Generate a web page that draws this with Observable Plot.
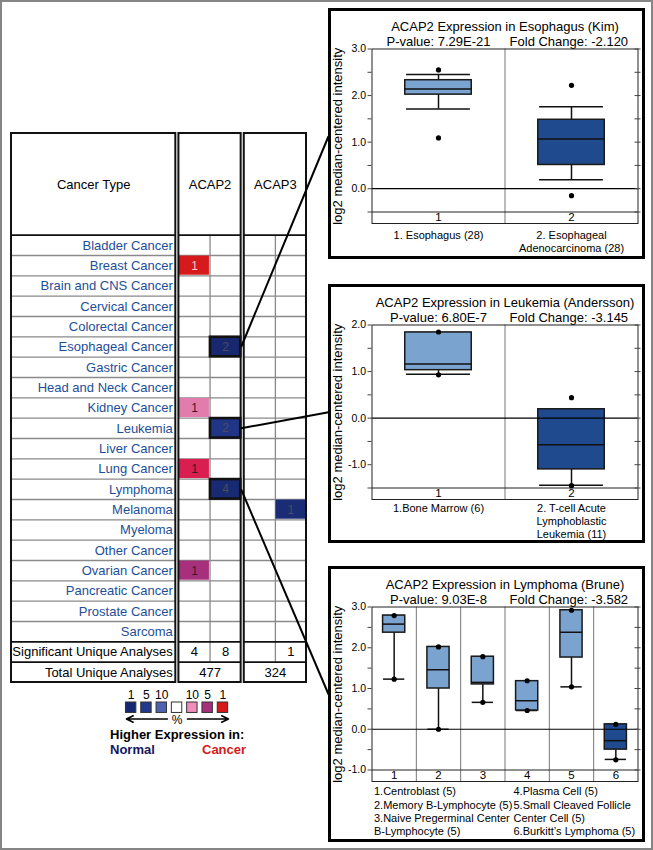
<!DOCTYPE html>
<html><head><meta charset="utf-8">
<script src="https://cdn.jsdelivr.net/npm/d3@7"></script>
<script src="https://cdn.jsdelivr.net/npm/@observablehq/plot@0.6"></script>
<style>
html,body{margin:0;padding:0;background:#fff;}
#fig{position:relative;width:653px;height:850px;overflow:hidden;font-family:'Liberation Sans',Arial,Helvetica,sans-serif;background:#fff;}
#fig svg{position:absolute;overflow:visible;}
</style></head>
<body><div id="fig"></div>
<script>
// ================= DATA =================
const cancerTypes = ["Bladder Cancer","Breast Cancer","Brain and CNS Cancer","Cervical Cancer","Colorectal Cancer","Esophageal Cancer","Gastric Cancer","Head and Neck Cancer","Kidney Cancer","Leukemia","Liver Cancer","Lung Cancer","Lymphoma","Melanoma","Myeloma","Other Cancer","Ovarian Cancer","Pancreatic Cancer","Prostate Cancer","Sarcoma"];
const summaryRows = ["Significant Unique Analyses","Total Unique Analyses"];
const genes = ["ACAP2","ACAP3"];
// significant analyses (cells of the heat table)
const sigCancer    = ["Breast Cancer","Esophageal Cancer","Kidney Cancer","Leukemia","Lung Cancer","Lymphoma","Melanoma","Ovarian Cancer"];
const sigGene      = ["ACAP2","ACAP2","ACAP2","ACAP2","ACAP2","ACAP2","ACAP3","ACAP2"];
const sigDirection = ["over","under","over","under","over","under","under","over"];
const sigCount     = [1,2,1,2,1,4,1,1];
const sigRank      = [1,1,9,4,2,1.5,2,5];   // gene rank percentile (colour)
const sigUniqueOver  = [4, null];
const sigUniqueUnder = [8, 1];
const totalUnique    = [477, 324];
const legendRanks = [1,5,10];

// Panel 1: Esophagus (Kim)
const esoCancer = "Esophageal Cancer";
const esoTitle = "ACAP2 Expression in Esophagus (Kim)";
const esoPValue = "7.29E-21", esoFold = "-2.120";
const esoLabels = ["1. Esophagus (28)", "2. Esophageal\nAdenocarcinoma (28)"];
const esoTissue = ["normal","cancer"];
const esoQ1 = [2.02, 0.51], esoMedian = [2.14, 1.07], esoQ3 = [2.33, 1.48];
const esoLow = [1.71, 0.19], esoHigh = [2.45, 1.76];
const esoDotGroup = [1,1,2,2], esoDotValue = [2.55,1.09,2.22,-0.15];
const esoYMin = -0.5, esoYMax = 3.0;

// Panel 2: Leukemia (Andersson)
const leuCancer = "Leukemia";
const leuTitle = "ACAP2 Expression in Leukemia (Andersson)";
const leuPValue = "6.80E-7", leuFold = "-3.145";
const leuLabels = ["1.Bone Marrow (6)", "2. T-cell Acute\nLymphoblastic\nLeukemia (11)"];
const leuTissue = ["normal","cancer"];
const leuQ1 = [1.03, -1.10], leuMedian = [1.16, -0.57], leuQ3 = [1.84, 0.19];
const leuLow = [0.94, -1.44], leuHigh = [1.84, 0.19];
const leuDotGroup = [1,1,2,2], leuDotValue = [1.85,0.93,0.44,-1.45];
const leuYMin = -1.5, leuYMax = 2.0;

// Panel 3: Lymphoma (Brune)
const lymCancer = "Lymphoma";
const lymTitle = "ACAP2 Expression in Lymphoma (Brune)";
const lymPValue = "9.03E-8", lymFold = "-3.582";
const lymLabels = ["1.Centroblast (5)","2.Memory B-Lymphocyte (5)","3.Naive Pregerminal Center\nB-Lymphocyte (5)","4.Plasma Cell (5)","5.Small Cleaved Follicle\nCenter Cell (5)","6.Burkitt\u2019s Lymphoma (5)"];
const lymTissue = ["normal","normal","normal","normal","normal","cancer"];
const lymQ1 =     [2.37, 1.00, 1.10, 0.46, 1.76, -0.50];
const lymMedian = [2.58, 1.46, 1.15, 0.70, 2.38, -0.28];
const lymQ3 =     [2.79, 2.02, 1.78, 1.18, 2.92, 0.12];
const lymLow =    [1.23, 0.00, 0.66, 0.46, 1.04, -0.74];
const lymHigh =   [2.79, 2.02, 1.78, 1.18, 2.92, 0.12];
const lymDotGroup = [1,1,2,2,3,3,4,4,5,5,6,6];
const lymDotValue = [2.79,1.23,2.02,0.00,1.78,0.66,1.19,0.46,2.92,1.04,0.12,-0.75];
const lymYMin = -1.0, lymYMax = 3.0;

// ================= STYLE / LAYOUT =================
const FONT = "'Liberation Sans', Arial, Helvetica, sans-serif";
const overColor  = d3.scaleLinear().domain([1,2,5,10]).range(["#d6191b","#d81f4f","#a6307b","#f08fba"]);
const underColor = d3.scaleLinear().domain([1,5,10]).range(["#182870","#22398c","#4d63b2"]);
const LIGHT = "#7ba3d0", DARK = "#1f4b8e";
const fig = document.getElementById("fig");
function put(el, left, top){ el.style.position="absolute"; el.style.left=left+"px"; el.style.top=top+"px"; fig.appendChild(el); return el; }
function div(left, top, w, h, css, html){ const d=document.createElement("div"); d.style.cssText=`position:absolute;left:${left}px;top:${top}px;${w!=null?`width:${w}px;`:""}${h!=null?`height:${h}px;`:""}box-sizing:border-box;${css||""}`; if(html) d.innerHTML=html; fig.appendChild(d); return d; }
const baseStyle = {background:"transparent", fontFamily: FONT, overflow:"visible"};

// ================= TABLE =================
const TX = d3.scaleLinear().domain([-5.38, 4.1]).range([11, 306]);
const TY = d3.scaleLinear().domain([-5, 22]).range([133, 682]);
const nRows = cancerTypes.length, sigRow = nRows, totRow = nRows + 1;
const panelCancers = [esoCancer, leuCancer, lymCancer];
const labelBlock = {x1: TX.domain()[0], x2: -0.1};
const geneBlocks = genes.map((g,k) => ({gene:g, x1:k*2.1, x2:k*2.1+2}));
const allBlocks = [labelBlock, ...geneBlocks];
const grayRows = allBlocks.flatMap(b => d3.range(1, nRows).map(r => ({x1:b.x1, x2:b.x2, y:r})));
const blackRows = allBlocks.flatMap(b => [0, sigRow, totRow].map(r => ({x1:b.x1, x2:b.x2, y:r})));
const cells = sigCancer.map((c,i) => {
  const k = genes.indexOf(sigGene[i]);
  const x1 = k*2.1 + (sigDirection[i] === "over" ? 0 : 1);
  const r = cancerTypes.indexOf(c);
  return {x1, x2:x1+1, y1:r, y2:r+1, count:sigCount[i],
    fill:(sigDirection[i]==="over"?overColor:underColor)(sigRank[i]),
    txt:(sigDirection[i]==="over" && sigRank[i]<=1) ? "#f7c8c8" : (sigDirection[i]==="over" ? "#3a1a26" : "#4a4c5e"),
    hl: sigGene[i]==="ACAP2" && panelCancers.includes(c)};
});
const summaryTexts = genes.flatMap((g,k) => [
  {x:k*2.1+0.5, y:sigRow+0.5, t:sigUniqueOver[k]},
  {x:k*2.1+1.5, y:sigRow+0.5, t:sigUniqueUnder[k]},
  {x:k*2.1+1, y:totRow+0.5, t:totalUnique[k]}
]).filter(d => d.t != null);
const headers = [{x:(labelBlock.x1+labelBlock.x2)/2, t:"Cancer Type"}, ...geneBlocks.map(b => ({x:(b.x1+b.x2)/2, t:b.gene}))];

const tablePlot = Plot.plot({
  width: 320, height: 700, margin: 0,
  x: {domain: TX.domain(), range: TX.range(), axis: null},
  y: {domain: TY.domain(), range: TY.range(), axis: null},
  style: {...baseStyle, fontSize: "13px"},
  marks: [
    Plot.ruleY(grayRows, {y:"y", x1:"x1", x2:"x2", stroke:"#8a8a8a", strokeWidth:1.3}),
    Plot.ruleX(geneBlocks, {x: d => d.x1 + 1, y1: 0, y2: totRow, stroke:"#8a8a8a", strokeWidth:1.3}),
    Plot.rect(cells, {x1:"x1", x2:"x2", y1:"y1", y2:"y2", fill:"fill", inset:0.6}),
    Plot.ruleY(blackRows, {y:"y", x1:"x1", x2:"x2", stroke:"#111", strokeWidth:1.6}),
    Plot.rect(cells.filter(d => d.hl), {x1:"x1", x2:"x2", y1:"y1", y2:"y2", fill:"none", stroke:"#111", strokeWidth:2.6, inset:0.4}),
    Plot.rect(allBlocks, {x1:"x1", x2:"x2", y1: TY.domain()[0], y2: TY.domain()[1], fill:"none", stroke:"#111", strokeWidth:2}),
    Plot.text(cells, {x: d => (d.x1+d.x2)/2, y: d => d.y1 + 0.5, text: d => String(d.count), fill:"txt", fontSize:12}),
    Plot.text(cancerTypes, {x: labelBlock.x2, y: (d,i) => i + 0.5, text: d => d, textAnchor:"end", dx:-3, fill:"#1d4e98", fontSize:13}),
    Plot.text(summaryRows, {x: labelBlock.x2, y: (d,i) => sigRow + i + 0.5, text: d => d, textAnchor:"end", dx:-3, fill:"#000", fontSize:13}),
    Plot.text(summaryTexts, {x:"x", y:"y", text: d => String(d.t), fontSize:13}),
    Plot.text(headers, {x:"x", y: -2.5, text:"t", fontSize:13})
  ]
});
put(tablePlot, 0, 0);

// ================= LEGEND =================
const legendItems = [
  ...legendRanks.map(r => ({side:"under", rank:r})),
  {side:"none", rank:null},
  ...legendRanks.slice().reverse().map(r => ({side:"over", rank:r}))
].map((d,i) => ({...d, i, label: d.rank ? String(d.rank) : "",
  fill: d.side==="under" ? underColor(d.rank) : d.side==="over" ? overColor(d.rank) : "#ffffff"}));
const LX = d3.scaleLinear().domain([-0.5, 6.5]).range([123, 230.1]);
const LY = d3.scaleLinear().domain([0, 2]).range([16, 38]);
const legendArrows = [{x1:2.37, x2:-0.31, y:1.5}, {x1:3.68, x2:6.36, y:1.5}];
const legendPlot = Plot.plot({
  width: 320, height: 45, margin: 0,
  x: {domain: LX.domain(), range: LX.range(), axis: null},
  y: {domain: LY.domain(), range: LY.range(), axis: null},
  style: {...baseStyle, fontSize: "12px"},
  marks: [
    Plot.rect(legendItems, {x1: d => d.i - 0.34, x2: d => d.i + 0.34, y1: 0, y2: 0.95, fill:"fill", stroke:"#333", strokeWidth:1}),
    Plot.text(legendItems, {x:"i", y:0, dy:-7, text:"label", fontSize:12}),
    Plot.arrow(legendArrows, {x1:"x1", x2:"x2", y1:"y", y2:"y", strokeWidth:1.6, headLength:7, headAngle:50}),
    Plot.text(["%"], {x: 3, y: 1.5, dy: 1.5, fontSize: 12})
  ]
});
put(legendPlot, 0, 686);
div(110, 728.5, null, null, "font-size:13px;line-height:12px;font-weight:bold;color:#000;white-space:nowrap;", "Higher Expression in:");
div(110, 743.5, null, null, "font-size:13px;line-height:12px;font-weight:bold;color:#14175e;white-space:nowrap;", "Normal");
div(202, 743.5, null, null, "font-size:13px;line-height:12px;font-weight:bold;color:#d41a1a;white-space:nowrap;", "Cancer");

// ================= BOX PANELS =================
const P_TOP = 40.5, P_BOTTOM = 215, BAND = 11.5, M_LEFT = 43.5, M_RIGHT = 7.5, HALF = 0.25, CAP = 0.24;
function boxPanel(p) {
  const n = p.q1.length, idx = d3.range(n);
  const yLo = p.yMin - BAND * (p.yMax - p.yMin) / (P_BOTTOM - BAND - P_TOP);
  const boxes = idx.map(i => ({x:i+1, q1:p.q1[i], med:p.median[i], q3:p.q3[i], lo:p.low[i], hi:p.high[i], fill: p.tissue[i]==="cancer" ? DARK : LIGHT}));
  const pts = p.dotGroup.map((g,j) => ({x:g, y:p.dotValue[j]}));
  const ticks = d3.range(Math.round(p.yMin*2), Math.round(p.yMax*2)+1).map(k => k/2);
  const fmt = d => Number.isInteger(d) ? d.toFixed(1) : "";
  const xLabelMarks = p.legendColumns
    ? [Plot.text([p.labels.slice(0,3).join("\n")], {frameAnchor:"bottom-left", textAnchor:"start", lineAnchor:"top", dx:2, dy:p.labelDy, lineHeight:1.2, fontSize:11}),
       Plot.text([p.labels.slice(3).join("\n")], {frameAnchor:"bottom", textAnchor:"start", lineAnchor:"top", dx:8.5, dy:p.labelDy, lineHeight:1.2, fontSize:11})]
    : [Plot.text(idx, {x: i => i+1, text: i => p.labels[i], frameAnchor:"bottom", lineAnchor:"top", dy:p.labelDy, lineHeight:1.18, fontSize:11})];
  const plot = Plot.plot({
    width: p.width, height: p.height,
    marginTop: P_TOP, marginBottom: p.height - P_BOTTOM, marginLeft: M_LEFT, marginRight: M_RIGHT,
    x: {domain:[0.5, n+0.5], axis:null},
    y: {domain:[yLo, p.yMax], axis:null},
    style: {...baseStyle, fontSize:"10.5px"},
    marks: [
      Plot.ruleX(d3.range(1.5, n, 1), {stroke:"#777", strokeWidth:1}),
      Plot.ruleX(boxes, {x:"x", y1:"q3", y2:"hi", stroke:"#111", strokeWidth:1.5}),
      Plot.ruleX(boxes, {x:"x", y1:"lo", y2:"q1", stroke:"#111", strokeWidth:1.5}),
      Plot.ruleY(boxes, {y:"hi", x1: d => d.x - CAP, x2: d => d.x + CAP, stroke:"#111", strokeWidth:1.5}),
      Plot.ruleY(boxes, {y:"lo", x1: d => d.x - CAP, x2: d => d.x + CAP, stroke:"#111", strokeWidth:1.5}),
      Plot.rect(boxes, {x1: d => d.x - HALF, x2: d => d.x + HALF, y1:"q1", y2:"q3", fill:"fill", stroke:"#1a1a1a", strokeWidth:1.5}),
      Plot.ruleY(boxes, {y:"med", x1: d => d.x - HALF, x2: d => d.x + HALF, stroke:"#111", strokeWidth:1.5}),
      Plot.ruleY([0], {stroke:"#000", strokeWidth:1.2}),
      Plot.ruleY([p.yMin], {stroke:"#222", strokeWidth:1}),
      Plot.dot(pts, {x:"x", y:"y", r:2.6, fill:"#000"}),
      Plot.frame({stroke:"#222", strokeWidth:1}),
      Plot.axisY({ticks, tickFormat: fmt, tickSize:4, tickPadding:2, label:null, stroke:"#444"}),
      Plot.axisY({anchor:"right", ticks, tickFormat: () => "", tickSize:6, dx:-4, label:null, stroke:"#444"}),
      Plot.text(idx, {x: i => i+1, y: (p.yMin + yLo)/2, text: i => String(i+1), fontSize:11.5}),
      Plot.text([p.title], {frameAnchor:"top", dy:-27, fontSize:13}),
      Plot.text(["P-value: " + p.pValue], {x: 0.5 + 0.25*n, frameAnchor:"top", dy:-12, fontSize:13}),
      Plot.text(["Fold Change: " + p.fold], {x: 0.5 + 0.74*n, frameAnchor:"top", dy:-12, fontSize:13}),
      Plot.text(["log2 median-centered intensity"], {frameAnchor:"left", textAnchor:"middle", rotate:-90, dx:-34.5, fontSize:13}),
      ...xLabelMarks
    ]
  });
  put(plot, p.left, p.top);
  div(p.left, p.top, p.width, p.height, "border:3px solid #000;pointer-events:none;");
  return {left:p.left, top:p.top, midY: p.top + (P_TOP + P_BOTTOM)/2, cancer:p.cancer};
}

const panels = [
  boxPanel({cancer:esoCancer, left:328, top:8, width:317, height:251, labelDy:6.5, title:esoTitle, pValue:esoPValue, fold:esoFold, labels:esoLabels, tissue:esoTissue,
    q1:esoQ1, median:esoMedian, q3:esoQ3, low:esoLow, high:esoHigh, dotGroup:esoDotGroup, dotValue:esoDotValue, yMin:esoYMin, yMax:esoYMax}),
  boxPanel({cancer:leuCancer, left:328, top:284, width:317, height:259, labelDy:3.5, title:leuTitle, pValue:leuPValue, fold:leuFold, labels:leuLabels, tissue:leuTissue,
    q1:leuQ1, median:leuMedian, q3:leuQ3, low:leuLow, high:leuHigh, dotGroup:leuDotGroup, dotValue:leuDotValue, yMin:leuYMin, yMax:leuYMax}),
  boxPanel({cancer:lymCancer, left:328, top:566, width:317, height:276, labelDy:4.5, title:lymTitle, pValue:lymPValue, fold:lymFold, labels:lymLabels, tissue:lymTissue, legendColumns:true,
    q1:lymQ1, median:lymMedian, q3:lymQ3, low:lymLow, high:lymHigh, dotGroup:lymDotGroup, dotValue:lymDotValue, yMin:lymYMin, yMax:lymYMax})
];

// ================= CONNECTORS =================
const links = panels.map(pn => {
  const r = cancerTypes.indexOf(pn.cancer);
  return {x1: TX(geneBlocks[0].x2), y1: TY(r + 0.5), x2: pn.left, y2: pn.midY};
});
const linkPlot = Plot.plot({
  width: 653, height: 850, margin: 0,
  x: {type:"identity", axis:null}, y: {type:"identity", axis:null},
  style: {...baseStyle, pointerEvents:"none"},
  marks: [Plot.link(links, {x1:"x1", y1:"y1", x2:"x2", y2:"y2", stroke:"#000", strokeWidth:2})]
});
put(linkPlot, 0, 0);

// page frame
div(0, 0, 653, 850, "border:2px solid #858585;pointer-events:none;");
</script>
</body></html>
